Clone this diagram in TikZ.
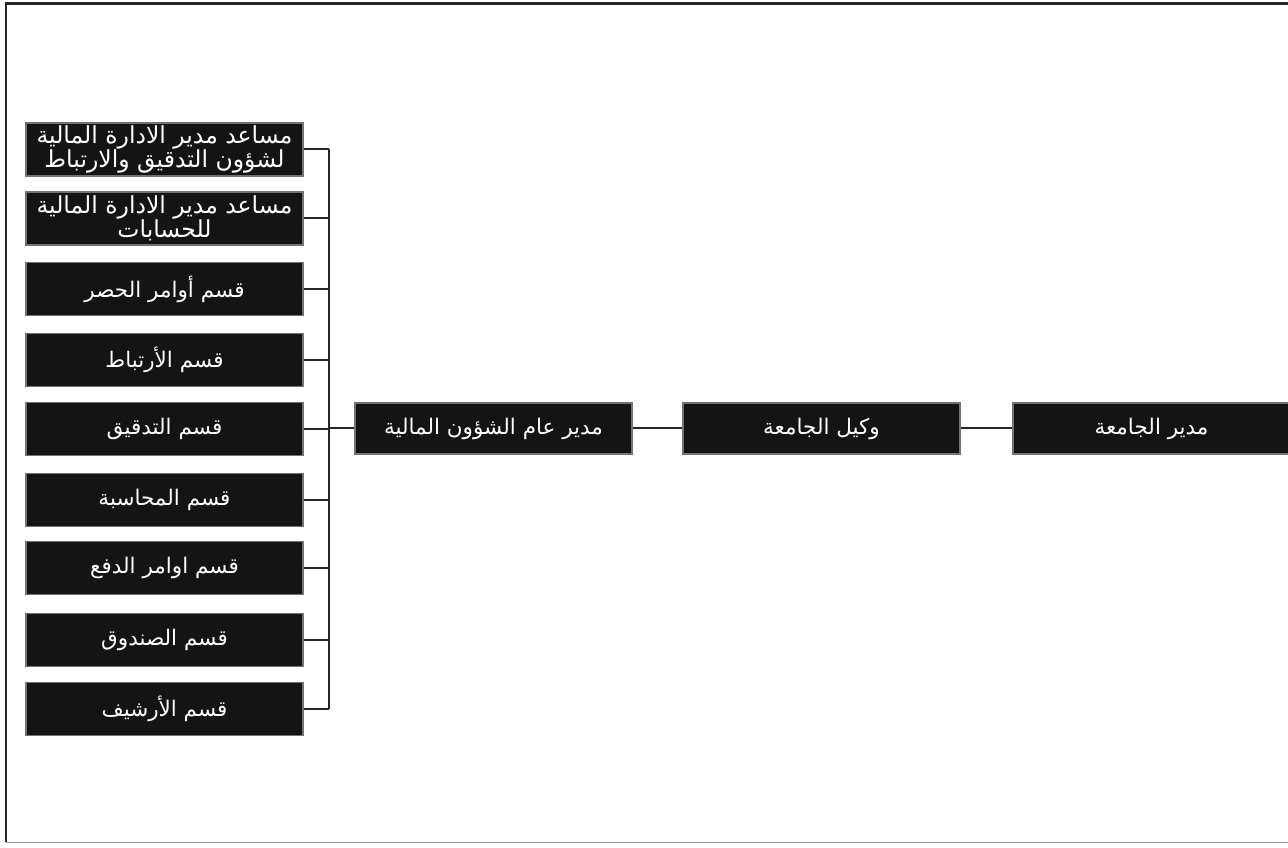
\documentclass[tikz,border=0pt]{standalone}
\usepackage{fontspec}
\newfontfamily\arabicfont[Script=Arabic]{DejaVu Sans}
\TeXXeTstate=1
\tikzset{
  orgbox/.style={draw=black!55, line width=1.2pt, fill=black!92, text=white,
    minimum width=277pt, minimum height=53pt, inner sep=0pt, align=center,
    font=\arabicfont\fontsize{21.5}{24}\selectfont},
  twoline/.style={font=\arabicfont\fontsize{23.5}{22}\selectfont},
  link/.style={line width=2pt, draw=black!85},
  frameline/.style={line width=3pt, draw=black!85}
}
\begin{document}
\begin{tikzpicture}[x=1pt,y=1pt]
\useasboundingbox (0,0) rectangle (1288,847);
% page frame
\draw[frameline] (5,843) -- (1288,843);
\draw[line width=2pt, draw=black!85] (6,843) -- (6,5);
\draw[line width=1pt, draw=black!40] (6,5) -- (1288,5);
% left column
\node[orgbox, twoline] (b1) at (164.5,697.5) {\beginR مساعد مدير الادارة المالية\endR\\\beginR لشؤون التدقيق والارتباط\endR};
\node[orgbox, twoline] (b2) at (164.5,628.5) {\beginR مساعد مدير الادارة المالية\endR\\\beginR للحسابات\endR};
\node[orgbox] (b3) at (164.5,558) {\beginR قسم أوامر الحصر\endR};
\node[orgbox] (b4) at (164.5,487) {\beginR قسم الأرتباط\endR};
\node[orgbox] (b5) at (164.5,418) {\beginR قسم التدقيق\endR};
\node[orgbox] (b6) at (164.5,347) {\beginR قسم المحاسبة\endR};
\node[orgbox] (b7) at (164.5,279) {\beginR قسم اوامر الدفع\endR};
\node[orgbox] (b8) at (164.5,207) {\beginR قسم الصندوق\endR};
\node[orgbox] (b9) at (164.5,138) {\beginR قسم الأرشيف\endR};
% main chain
\node[orgbox, minimum height=51pt] (gm) at (493.5,418.5) {\beginR مدير عام الشؤون المالية\endR};
\node[orgbox, minimum height=51pt] (vk) at (821.5,418.5) {\beginR وكيل الجامعة\endR};
\node[orgbox, minimum height=51pt] (pr) at (1151.5,418.5) {\beginR مدير الجامعة\endR};
% bus
\coordinate (bus) at (329,0);
\foreach \b in {b1,b2,b3,b4,b5,b6,b7,b8,b9}{
  \draw[link] (\b.east) -- (\b.east -| bus);
}
\draw[link] (b1.east -| bus) -- (b9.east -| bus);
\draw[link] (gm.west -| bus) -- (gm.west);
\draw[link] (gm.east) -- (vk.west);
\draw[link] (vk.east) -- (pr.west);
\end{tikzpicture}
\end{document}
